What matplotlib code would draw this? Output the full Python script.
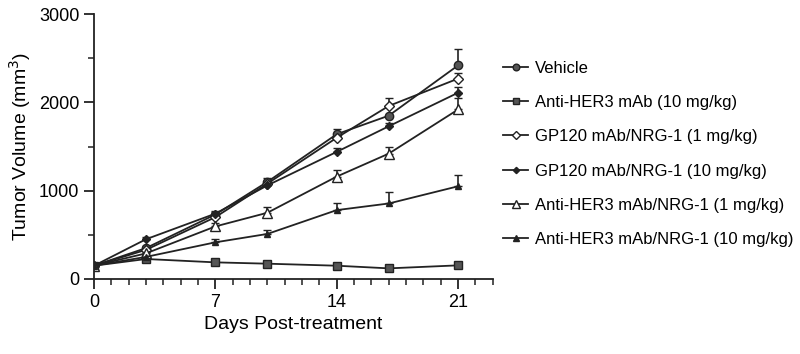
import matplotlib.pyplot as plt
import numpy as np
from matplotlib.ticker import MultipleLocator
from matplotlib.lines import Line2D

plt.rcParams['font.family'] = ['Liberation Sans', 'DejaVu Sans']

days = [0, 3, 7, 10, 14, 17, 21]

labels = [
    'Vehicle',
    'Anti-HER3 mAb (10 mg/kg)',
    'GP120 mAb/NRG-1 (1 mg/kg)',
    'GP120 mAb/NRG-1 (10 mg/kg)',
    'Anti-HER3 mAb/NRG-1 (1 mg/kg)',
    'Anti-HER3 mAb/NRG-1 (10 mg/kg)',
]

vehicle      = [150, 350, 730, 1100, 1640, 1850, 2420]
her3         = [150, 226, 188, 173, 150, 120, 154]
gp120_1      = [150, 330, 700, 1080, 1600, 1960, 2270]
gp120_10     = [150, 450, 740, 1060, 1440, 1730, 2110]
her3_nrg_1   = [150, 290, 595, 750, 1160, 1420, 1920]
her3_nrg_10  = [150, 250, 415, 510, 780, 855, 1050]

vehicle_err     = [0, 20, 30, 40, 60, 0, 190]
her3_err        = [0, 10, 10, 10, 10, 10, 10]
gp120_1_err     = [0, 20, 30, 30, 50, 90, 60]
gp120_10_err    = [0, 20, 30, 30, 40, 40, 60]
her3_nrg_1_err  = [0, 20, 40, 70, 80, 80, 130]
her3_nrg_10_err = [0, 20, 40, 50, 80, 125, 125]

series = [vehicle, her3, gp120_1, gp120_10, her3_nrg_1, her3_nrg_10]
errors = [vehicle_err, her3_err, gp120_1_err, gp120_10_err, her3_nrg_1_err, her3_nrg_10_err]
styles = [
    dict(marker='o', mfc='#555555', ms=6),
    dict(marker='s', mfc='#555555', ms=6),
    dict(marker='D', mfc='white', ms=5.5),
    dict(marker='D', mfc='#222222', ms=4),
    dict(marker='^', mfc='white', ms=7),
    dict(marker='^', mfc='#222222', ms=5),
]

fig = plt.figure(figsize=(8, 3.54), dpi=100)
ax = fig.add_axes([0.1175, 0.212, 0.4985, 0.748])

handles = []
for y, e, st, lab in zip(series, errors, styles, labels):
    y = np.array(y)
    e = np.array(e)
    ax.errorbar(days, y, yerr=[np.zeros_like(e), e], color='#222222', lw=1.3,
                mec='#222222', mew=1.0, capsize=3, elinewidth=1.2, capthick=1.2,
                **st)
    handles.append(Line2D([], [], color='#222222', lw=1.3, mec='#222222',
                          mew=1.0, label=lab,
                          **{k: (v * 0.8 if k == 'ms' else v) for k, v in st.items()}))

ax.set_xlim(0, 23)
ax.set_ylim(0, 3000)
ax.set_xticks([0, 7, 14, 21])
ax.xaxis.set_minor_locator(MultipleLocator(1))
ax.set_yticks([0, 1000, 2000, 3000])
ax.yaxis.set_minor_locator(MultipleLocator(500))
ax.spines['top'].set_visible(False)
ax.spines['right'].set_visible(False)
for s in ('left', 'bottom'):
    ax.spines[s].set_linewidth(1.3)
    ax.spines[s].set_color('#222222')
ax.tick_params(which='major', length=7, width=1.3, labelsize=13, color='#222222')
ax.tick_params(which='minor', length=4, width=1.1, color='#222222')
ax.set_xlabel('Days Post-treatment', fontsize=14)
ax.set_ylabel('Tumor Volume (mm$^3$)', fontsize=14)

fig.legend(handles=handles, loc='upper left', bbox_to_anchor=(0.629, 0.829),
           frameon=False, fontsize=12, handlelength=1.5, labelspacing=1.16,
           handletextpad=0.4, borderaxespad=0, borderpad=0)

plt.savefig('out.png', dpi=100)
